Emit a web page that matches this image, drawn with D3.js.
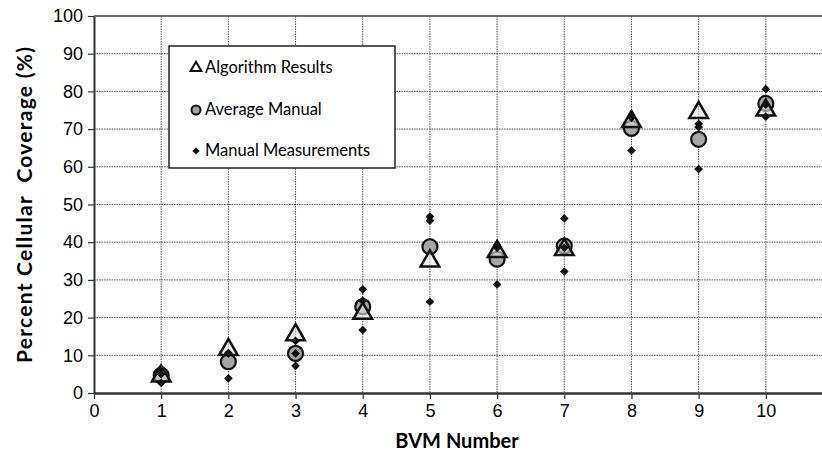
<!DOCTYPE html>
<html>
<head>
<meta charset="utf-8">
<script src="https://cdn.jsdelivr.net/npm/d3@7"></script>
<style>
  body { margin: 0; background: #fff; }
  svg { display: block; font-family: Lato, "Open Sans", sans-serif; }
</style>
</head>
<body>
<svg id="chart" width="822" height="468"></svg>
<script>
// BVM numbers
let bvm = [1, 2, 3, 4, 5, 6, 7, 8, 9, 10];
// Algorithm results (%)
let algorithm = [4.5, 11.5, 15.4, 21.1, 35.0, 37.5, 38.0, 72.0, 74.4, 75.0];
// Average of manual measurements (%)
let averageManual = [4.7, 8.3, 10.5, 22.9, 38.8, 35.5, 39.0, 70.2, 67.3, 76.8];
// Individual manual measurements (%), three per BVM
let manual = [
    [2.7, 5.0, 6.5],
    [3.9, 10.5, 10.6],
    [7.2, 10.5, 13.8],
    [16.7, 24.5, 27.5],
    [24.2, 45.7, 46.8],
    [28.8, 38.5, 39.2],
    [32.2, 38.5, 46.3],
    [64.3, 73.0, 73.3],
    [59.4, 70.5, 71.4],
    [73.3, 76.5, 80.6]
];
let yTicks = [0, 10, 20, 30, 40, 50, 60, 70, 80, 90, 100];
let xTicks = [0, 1, 2, 3, 4, 5, 6, 7, 8, 9, 10, 11];

let margin = {top: 16, left: 94};
let plotWidth = 739;   // 0..11, right end falls just past the picture edge
let plotHeight = 377;

let svg = d3.select("#chart");
let g = svg.append("g")
    .attr("transform", `translate(${margin.left}, ${margin.top})`);

let xScale = d3.scaleLinear().domain([0, 11]).range([0, plotWidth]);
let yScale = d3.scaleLinear().domain([0, 100]).range([plotHeight, 0]);

// Gridlines
g.append("g").selectAll("line")
    .data(yTicks.filter(d => d > 0 && d < 100))
    .enter().append("line")
    .attr("x1", 0).attr("x2", plotWidth)
    .attr("y1", d => yScale(d)).attr("y2", d => yScale(d))
    .attr("stroke", "#555").attr("stroke-width", 1)
    .attr("stroke-dasharray", "1.5,1");
g.append("g").selectAll("line")
    .data(xTicks.filter(d => d > 0))
    .enter().append("line")
    .attr("x1", d => xScale(d)).attr("x2", d => xScale(d))
    .attr("y1", 0).attr("y2", plotHeight)
    .attr("stroke", "#555").attr("stroke-width", 1)
    .attr("stroke-dasharray", "1.5,1");

// Top border
g.append("line")
    .attr("x1", 0).attr("x2", plotWidth)
    .attr("y1", 0).attr("y2", 0)
    .attr("stroke", "#444").attr("stroke-width", 1.5);

// Axes
let xAxis = d3.axisBottom(xScale).tickValues(xTicks.slice(0, 11)).tickSize(6).tickSizeOuter(0);
let yAxis = d3.axisLeft(yScale).tickValues(yTicks).tickSize(6).tickSizeOuter(0);

let xg = g.append("g")
    .attr("class", "x-axis axis")
    .attr("transform", "translate(0," + plotHeight + ")")
    .call(xAxis);
xg.select(".domain").attr("stroke", "#333").attr("stroke-width", 2.5);
xg.selectAll(".tick line").attr("stroke", "#333").attr("stroke-width", 1.2);
xg.selectAll("text")
    .attr("font-size", 18).attr("fill", "#000")
    .attr("dy", "0.95em").attr("y", 7);

let yg = g.append("g")
    .attr("class", "y-axis axis")
    .call(yAxis);
yg.select(".domain").attr("stroke", "#333").attr("stroke-width", 2);
yg.selectAll(".tick line").attr("stroke", "#333").attr("stroke-width", 1.2);
yg.selectAll("text")
    .attr("font-size", 18).attr("fill", "#000")
    .attr("x", -11);

// Axis titles
svg.append("text")
    .text("BVM Number")
    .attr("x", 457).attr("y", 448)
    .attr("text-anchor", "middle")
    .attr("font-weight", "bold")
    .attr("font-size", 20).attr("fill", "#000");
svg.append("text")
    .text("Percent Cellular  Coverage (%)")
    .attr("transform", "translate(32, 205) rotate(-90)")
    .attr("text-anchor", "middle")
    .attr("font-weight", "bold")
    .attr("font-size", 21).attr("fill", "#000")
    .attr("textLength", 316)
    .attr("lengthAdjust", "spacing")
    .style("white-space", "pre");

// Marker shapes
let triangle = d3.symbol().type(d3.symbolTriangle).size(150);
let smallTriangle = d3.symbol().type(d3.symbolTriangle).size(50);
let diamond = d3.symbol().type(d3.symbolSquare).size(38);

let marks = g.append("g").attr("class", "marks");

// Average manual (circles)
marks.append("g").selectAll("circle")
    .data(averageManual)
    .enter().append("circle")
    .attr("cx", (d, i) => xScale(bvm[i]))
    .attr("cy", d => yScale(d))
    .attr("r", 7.5)
    .attr("fill", "#a6a6a6")
    .attr("stroke", "#111")
    .attr("stroke-width", 2.2);

// Algorithm results (triangles)
marks.append("g").selectAll("path")
    .data(algorithm)
    .enter().append("path")
    .attr("d", triangle)
    .attr("transform", (d, i) => `translate(${xScale(bvm[i])}, ${yScale(d)})`)
    .attr("fill", "#e2e2e2")
    .attr("fill-opacity", 0.6)
    .attr("stroke", "#111")
    .attr("stroke-width", 2.5)
    .attr("stroke-linejoin", "miter");

// Manual measurements (diamonds)
let flat = [];
manual.forEach(function (vals, i) {
    vals.forEach(function (v) { flat.push({bvm: bvm[i], value: v}); });
});
marks.append("g").selectAll("path")
    .data(flat)
    .enter().append("path")
    .attr("d", diamond)
    .attr("transform", d => `translate(${xScale(d.bvm)}, ${yScale(d.value)}) rotate(45)`)
    .attr("fill", "#111");

// Legend
let legend = svg.append("g").attr("class", "legend");
legend.append("rect")
    .attr("x", 169).attr("y", 46)
    .attr("width", 226).attr("height", 122)
    .attr("fill", "#fff")
    .attr("stroke", "#222").attr("stroke-width", 1.5);

let legendItems = ["Algorithm Results", "Average Manual", "Manual Measurements"];
let legendY = [67, 109, 150];
legendItems.forEach(function (label, i) {
    legend.append("text")
        .text(label)
        .attr("x", 205).attr("y", legendY[i])
        .attr("dy", "0.35em")
        .attr("font-size", 16.5).attr("fill", "#000");
});
legend.append("path")
    .attr("d", smallTriangle)
    .attr("transform", `translate(196, ${legendY[0] + 1})`)
    .attr("fill", "#fff").attr("stroke", "#111").attr("stroke-width", 2);
legend.append("circle")
    .attr("cx", 196).attr("cy", legendY[1] + 1).attr("r", 4.5)
    .attr("fill", "#a6a6a6").attr("stroke", "#111").attr("stroke-width", 2);
legend.append("path")
    .attr("d", d3.symbol().type(d3.symbolSquare).size(26))
    .attr("transform", `translate(196, ${legendY[2] + 1}) rotate(45)`)
    .attr("fill", "#111");
</script>
</body>
</html>
